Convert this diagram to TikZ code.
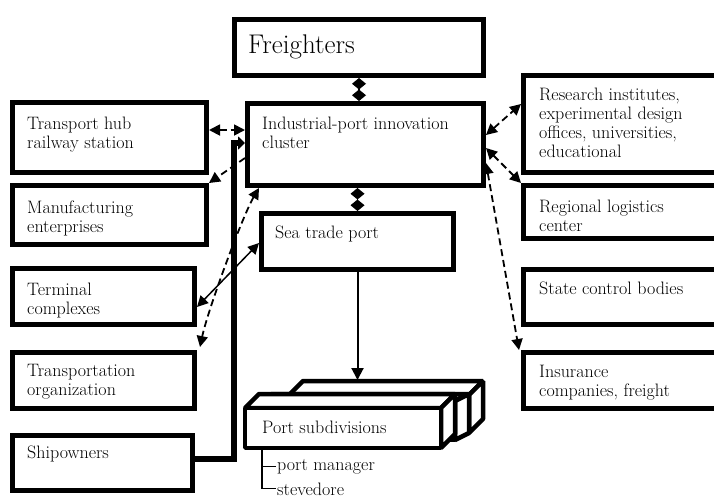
\documentclass[tikz,border=0pt]{standalone}
\usetikzlibrary{arrows.meta}
\tikzset{
  unit/.style={draw, line width=5pt, fill=white, anchor=north west, inner sep=0pt},
  lbl/.style={anchor=north west, inner sep=0pt, align=left, font=\fontsize{18}{19}\selectfont},
  face/.style={draw, line width=4.5pt, fill=white, line join=bevel},
  dlink/.style={line width=1.8pt, dash pattern=on 7pt off 4pt,
    {Triangle[length=11pt,width=11pt]}-{Triangle[length=11pt,width=11pt]}},
  slink/.style={line width=1.5pt, {Triangle[length=11pt,width=11pt]}-{Triangle[length=11pt,width=11pt]}},
  dlink1/.style={line width=1.8pt, dash pattern=on 7pt off 4pt, -{Triangle[length=11pt,width=11pt]}},
  dia/.style={line width=1.5pt, {Diamond[length=11.5pt,width=14pt]}-{Diamond[length=11.5pt,width=14pt]}},
  mainline/.style={line width=6pt, line join=miter, -{Triangle[length=7pt,width=13pt]}}
}
\begin{document}
\begin{tikzpicture}[x=1pt, y=-1pt]
\useasboundingbox (0,0) rectangle (714,498);
\clip (0,0) rectangle (714,498);

% boxes
\node[unit, minimum width=249, minimum height=56] (freight) at (232,17) {};
\node[unit, minimum width=236, minimum height=82] (cluster) at (245,101) {};
\node[unit, minimum width=194, minimum height=70] (hub) at (10,100) {};
\node[unit, minimum width=194, minimum height=59] (manuf) at (10,183) {};
\node[unit, minimum width=204, minimum height=97] (research) at (521,73) {};
\node[unit, minimum width=204, minimum height=53] (regional) at (521,183) {};
\node[unit, minimum width=192, minimum height=56] (sea) at (259,211) {};
\node[unit, minimum width=182, minimum height=56] (term) at (10,266) {};
\node[unit, minimum width=204, minimum height=55] (state) at (521,267) {};
\node[unit, minimum width=182, minimum height=56] (transp) at (10,350) {};
\node[unit, minimum width=204, minimum height=56] (insur) at (521,350) {};
\node[unit, minimum width=180, minimum height=55] (ship) at (10,433) {};

% port subdivisions, three boxes one behind the other
\foreach \xa/\ya/\xb/\yb/\dx/\dy in {289/395/469/433/14/-14, 258/401/455/440/14/-7, 245/408/441/448/14/-14}{
  \path[face] (\xa,\ya) -- ++(\dx,\dy) -- (\xb+\dx,\ya+\dy) -- (\xb,\ya) -- cycle;
  \path[face] (\xb,\ya) -- ++(\dx,\dy) -- (\xb+\dx,\yb+\dy) -- (\xb,\yb) -- cycle;
  \path[face] (\xa,\ya) rectangle (\xb,\yb);
}
\coordinate (subtop) at (358,380);
\coordinate (root) at (262,450);

% texts
\node[anchor=base west, inner sep=0pt, font=\fontsize{27}{30}\selectfont] (freighttxt) at (248,53) {Freighters};
\node[lbl] (clustertxt) at (262,116.5) {Industrial-port innovation\\cluster};
\node[lbl] (hubtxt) at (27,116.5) {Transport hub\\railway station};
\node[lbl] (manuftxt) at (27,200.5) {Manufacturing\\enterprises};
\node[lbl] (researchtxt) at (539,87.5) {Research institutes,\\experimental design\\offices, universities,\\educational};
\node[lbl] (regionaltxt) at (539,199.5) {Regional logistics\\center};
\node[lbl] (seatxt) at (275,225.5) {Sea trade port};
\node[lbl] (termtxt) at (27,282.5) {Terminal\\complexes};
\node[lbl] (statetxt) at (539,281.5) {State control bodies};
\node[lbl] (transptxt) at (27,364.5) {Transportation\\organization};
\node[lbl] (insurtxt) at (539,364.5) {Insurance\\companies, freight};
\node[lbl] (shiptxt) at (27,445.5) {Shipowners};
\node[lbl] (subdivtxt) at (262,420.5) {Port subdivisions};
\node[anchor=base west, inner sep=1.5pt, font=\fontsize{18}{19}\selectfont] (pm) at (275.5,470) {port manager};
\node[anchor=base west, inner sep=1.5pt, font=\fontsize{18}{19}\selectfont] (stev) at (275.5,495) {stevedore};

% connectors
\draw[dia] (freight.south) -- (freight.south |- cluster.north);
\draw[dia] (sea.north) -- (sea.north |- cluster.south);
\draw[line width=2pt, -{Triangle[length=12pt,width=12pt]}] (sea.south) -- (sea.south |- subtop);
\draw[dlink] (hub.east |- 0,130) -- (cluster.west |- 0,130);
\draw[dlink1] (cluster.west |- 0,158) -- (manuf.north east);
\draw[slink] (term.east |- 0,307) -- (sea.west |- 0,243);
\draw[dlink] ([xshift=14pt]cluster.south west) .. controls (243,215) and (208,309) .. ([xshift=3pt,yshift=3pt]transp.north east);
\draw[dlink] (cluster.east |- 0,135) -- (research.west |- 0,104);
\draw[dlink] (cluster.east |- 0,148) -- (regional.north west);
\draw[dlink] (cluster.east |- 0,163) -- ([xshift=-2pt]insur.north west);
\coordinate (bend) at (234,143);
\draw[mainline] (ship.east |- 0,459) -| (bend) -- (cluster.west |- bend);
\draw[line width=1.2pt] (root) |- (pm.west);
\draw[line width=1.2pt] (root) |- (stev.west);
\end{tikzpicture}
\end{document}
